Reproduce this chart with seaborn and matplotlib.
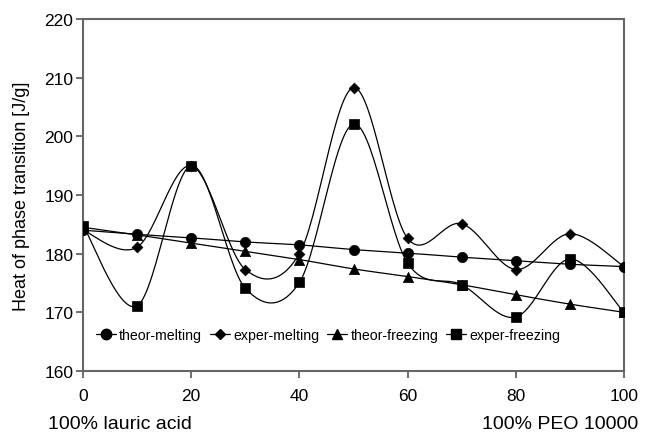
import numpy as np
import pandas as pd
import matplotlib
matplotlib.use("Agg")
import matplotlib.pyplot as plt
from matplotlib.lines import Line2D
import seaborn as sns

composition = [0, 10, 20, 30, 40, 50, 60, 70, 80, 90, 100]
theor_melting = [184.0, 183.3, 182.7, 182.0, 181.5, 180.7, 180.1, 179.4, 178.8, 178.2, 177.8]
exper_melting = [184.0, 181.1, 195.0, 177.3, 180.0, 208.3, 182.6, 185.1, 177.3, 183.4, 177.8]
theor_freezing = [184.5, 183.2, 181.8, 180.4, 179.0, 177.4, 176.1, 174.7, 173.0, 171.4, 170.0]
exper_freezing = [184.8, 171.1, 195.0, 174.1, 175.1, 202.1, 178.4, 174.7, 169.2, 179.1, 170.0]
series_names = ["theor-melting", "exper-melting", "theor-freezing", "exper-freezing"]
series_values = [theor_melting, exper_melting, theor_freezing, exper_freezing]
markers = {"theor-melting": "o", "exper-melting": "D", "theor-freezing": "^", "exper-freezing": "s"}
msizes = {"theor-melting": 55, "exper-melting": 30, "theor-freezing": 55, "exper-freezing": 60}

def smooth(x, y, n=30):
    # Catmull-Rom (Excel-style smoothed line) through the data points
    x = np.asarray(x, float); y = np.asarray(y, float)
    px = np.concatenate([[x[0]], x, [x[-1]]])
    py = np.concatenate([[y[0]], y, [y[-1]]])
    xs, ys = [], []
    for i in range(1, len(px) - 2):
        p0, p1, p2, p3 = [np.array([px[j], py[j]]) for j in (i - 1, i, i + 1, i + 2)]
        c1 = p1 + (p2 - p0) / 6
        c2 = p2 - (p3 - p1) / 6
        t = np.linspace(0, 1, n)[:, None]
        b = (1 - t) ** 3 * p1 + 3 * (1 - t) ** 2 * t * c1 + 3 * (1 - t) * t ** 2 * c2 + t ** 3 * p2
        xs.extend(b[:, 0]); ys.extend(b[:, 1])
    return np.array(xs), np.array(ys)

rows = []
curve_rows = []
for name, vals in zip(series_names, series_values):
    for c, v in zip(composition, vals):
        rows.append({"x": c, "y": v, "series": name})
    sx, sy = smooth(composition, vals)
    for a, b in zip(sx, sy):
        curve_rows.append({"x": a, "y": b, "series": name})
pts = pd.DataFrame(rows)
curves = pd.DataFrame(curve_rows)

sns.set_style("white")
plt.rcParams["font.family"] = ["Liberation Sans", "DejaVu Sans"]
plt.rcParams["text.color"] = "black"
plt.rcParams["axes.labelcolor"] = "black"

fig = plt.figure(figsize=(6.45, 4.35), dpi=100)
ax = fig.add_axes([83 / 645, 1 - 372 / 435, 541 / 645, 352 / 435])

for name in series_names:
    d = curves[curves.series == name]
    sns.lineplot(data=d, x="x", y="y", sort=False, estimator=None, color="black",
                 linewidth=0.9, ax=ax, legend=False)
for name in series_names:
    d = pts[pts.series == name]
    sns.scatterplot(data=d, x="x", y="y", marker=markers[name], s=msizes[name],
                    color="black", edgecolor="black", linewidth=0.5, ax=ax, legend=False, zorder=5)

ax.set_xlim(0, 100)
ax.set_ylim(160, 220)
ax.set_xticks(range(0, 101, 20))
ax.set_yticks(range(160, 221, 10))
ax.set_xlabel("")
ax.set_ylabel("Heat of phase transition [J/g]", fontsize=13, labelpad=10, color="black")
for s in ax.spines.values():
    s.set_color("#666666")
    s.set_linewidth(1.5)
ax.tick_params(axis="both", direction="out", length=5, width=1.2, color="#555555",
               labelsize=12.5, labelcolor="black", left=True, bottom=True)
ax.tick_params(axis="x", pad=7)
ax.tick_params(axis="y", pad=2)

handles = [Line2D([0], [0], color="black", linewidth=0.9, marker=markers[n],
                  markersize={"o": 7.5, "D": 5.5, "^": 7.5, "s": 7.5}[markers[n]],
                  markerfacecolor="black", markeredgecolor="black") for n in series_names]
ax.legend(handles, series_names, loc="center left", bbox_to_anchor=(0.0, 0.103), ncol=4,
          frameon=False, fontsize=10.2, handlelength=1.4, handletextpad=0.25, columnspacing=0.55)

fig.text(48 / 645, 1 - 425 / 435, "100% lauric acid", fontsize=14, va="center", ha="left")
fig.text(638 / 645, 1 - 425 / 435, "100% PEO 10000", fontsize=14, va="center", ha="right")

fig.savefig("out.png", dpi=100)
